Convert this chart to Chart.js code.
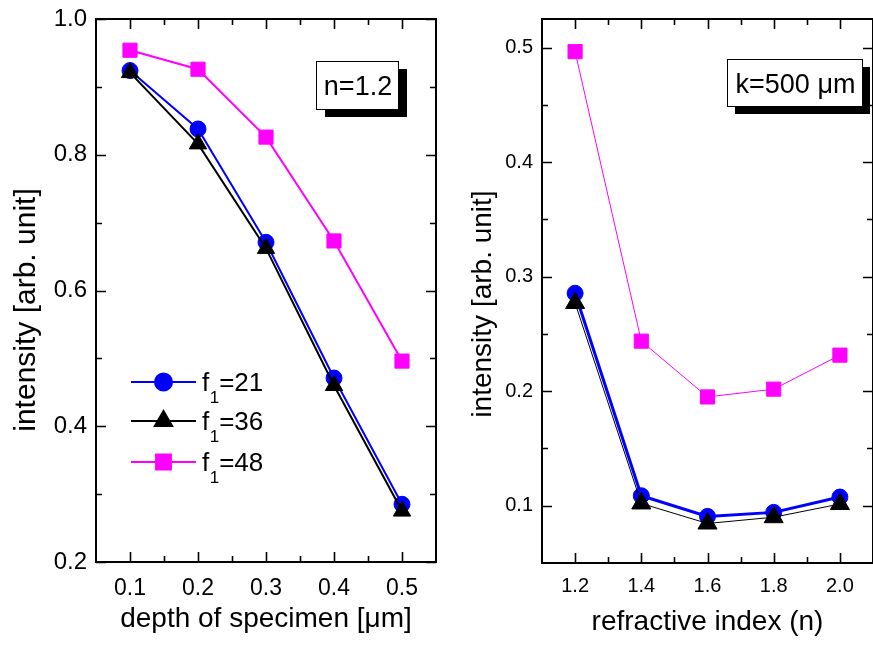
<!DOCTYPE html>
<html><head><meta charset="utf-8">
<script src="https://cdn.jsdelivr.net/npm/chart.js@4.4.0/dist/chart.umd.min.js"></script>
<style>
html,body{margin:0;padding:0;background:#fff;overflow:hidden;}
#w1{position:absolute;left:0;top:0;width:460px;height:646px;}
#w2{position:absolute;left:455px;top:0;width:418px;height:646px;overflow:hidden;}
#c1{display:block;width:460px;height:646px;}
#c2{display:block;width:430px;height:646px;}
</style></head><body>
<div id="w1"><canvas id="c1" width="460" height="646"></canvas></div>
<div id="w2"><canvas id="c2" width="430" height="646"></canvas></div>
<script>
// ---- data ----
const seriesNames = ['21', '36', '48'];
const seriesColors = ['#0000ff', '#000000', '#ff00ff'];
const seriesMarkers = ['circle', 'triangle', 'rect'];

const depthValues = [0.1, 0.2, 0.3, 0.4, 0.5];
const depthF21 = [0.924, 0.838, 0.671, 0.471, 0.285];
const depthF36 = [0.921, 0.816, 0.662, 0.460, 0.275];
const depthF48 = [0.954, 0.926, 0.826, 0.673, 0.496];

const indexValues = [1.2, 1.4, 1.6, 1.8, 2.0];
const indexF21 = [0.2855, 0.1087, 0.0907, 0.0942, 0.1076];
const indexF36 = [0.277, 0.102, 0.0845, 0.0900, 0.1015];
const indexF48 = [0.4965, 0.2437, 0.1950, 0.2018, 0.2315];

const depthTicks = [0.1, 0.2, 0.3, 0.4, 0.5];
const depthMinorTicks = [0.15, 0.25, 0.35, 0.45];
const leftIntensityTicks = [0.2, 0.4, 0.6, 0.8, 1.0];
const leftIntensityMinor = [0.3, 0.5, 0.7, 0.9];
const indexTicks = [1.2, 1.4, 1.6, 1.8, 2.0];
const indexMinorTicks = [1.3, 1.5, 1.7, 1.9];
const rightIntensityTicks = [0.1, 0.2, 0.3, 0.4, 0.5];
const rightIntensityMinor = [0.15, 0.25, 0.35, 0.45];

const FONT = '"Liberation Sans", Arial, Helvetica, sans-serif';
Chart.defaults.font.family = FONT;
Chart.defaults.color = '#000';

const pts = (xs, ys) => xs.map((x, i) => ({x: x, y: ys[i]}));

// ---- decoration plugin: frame, inward ticks, y title, legend, label box ----
const decor = {
  id: 'decor',
  afterDraw(chart, args, o) {
    const {ctx, chartArea: a, scales: {x, y}} = chart;
    ctx.save();
    ctx.strokeStyle = '#000';
    ctx.lineWidth = 1.6;
    ctx.beginPath();
    const xt = (vals, len) => vals.forEach(v => {
      const p = Math.round(x.getPixelForValue(v)) + 0.5;
      ctx.moveTo(p, a.bottom); ctx.lineTo(p, a.bottom - len);
      ctx.moveTo(p, a.top); ctx.lineTo(p, a.top + len);
    });
    const yt = (vals, len) => vals.forEach(v => {
      const p = Math.round(y.getPixelForValue(v)) + 0.5;
      ctx.moveTo(a.left, p); ctx.lineTo(a.left + len, p);
      ctx.moveTo(a.right, p); ctx.lineTo(a.right - len, p);
    });
    xt(o.xMajor, 10); xt(o.xMinor, 6);
    yt(o.yMajor, 10); yt(o.yMinor, 6);
    ctx.stroke();
    ctx.lineWidth = 2;
    ctx.strokeRect(a.left, a.top, a.right - a.left, a.bottom - a.top);

    // y title
    ctx.save();
    ctx.translate(o.yTitle.x, o.yTitle.y);
    ctx.rotate(-Math.PI / 2);
    ctx.font = o.yTitle.size + 'px ' + FONT;
    ctx.fillStyle = '#000';
    ctx.textAlign = 'center';
    ctx.textBaseline = 'alphabetic';
    ctx.fillText(o.yTitle.text, 0, 0);
    ctx.restore();

    // label box with shadow
    const b = o.box;
    ctx.fillStyle = '#000';
    ctx.fillRect(b.x + b.sx, b.y + b.sy, b.w, b.h);
    ctx.fillStyle = '#fff';
    ctx.fillRect(b.x, b.y, b.w, b.h);
    ctx.lineWidth = 1;
    ctx.strokeStyle = '#000';
    ctx.strokeRect(b.x + 0.5, b.y + 0.5, b.w, b.h);
    ctx.fillStyle = '#000';
    ctx.font = b.size + 'px ' + FONT;
    ctx.textAlign = 'center';
    ctx.textBaseline = 'alphabetic';
    ctx.fillText(b.text, b.x + b.w / 2 + 1, b.y + b.base);

    // legend
    if (o.legend) {
      const L = o.legend;
      chart.data.datasets.forEach((ds, i) => {
        const ry = L.y0 + L.dy[i];
        ctx.strokeStyle = ds.borderColor;
        ctx.lineWidth = 2;
        ctx.beginPath();
        ctx.moveTo(L.x1, ry); ctx.lineTo(L.x2, ry);
        ctx.stroke();
        ctx.fillStyle = ds.backgroundColor;
        ctx.strokeStyle = ds.borderColor;
        Chart.helpers.drawPoint(ctx, {pointStyle: ds.pointStyle, radius: L.r[i], rotation: 0, borderWidth: 1}, (L.x1 + L.x2) / 2, ry);
        ctx.fillStyle = '#000';
        ctx.textAlign = 'left';
        ctx.textBaseline = 'alphabetic';
        ctx.font = L.size + 'px ' + FONT;
        let tx = L.tx;
        ctx.fillText('f', tx, ry + 9);
        tx += ctx.measureText('f').width + 0.5;
        ctx.font = L.sub + 'px ' + FONT;
        ctx.fillText('1', tx, ry + 21);
        tx += ctx.measureText('1').width;
        ctx.font = L.size + 'px ' + FONT;
        ctx.fillText('=' + seriesNames[i], tx, ry + 9);
      });
    }
    ctx.restore();
  }
};

function makeDataset(i, xs, ys, lw, r, ord) {
  return {
    label: 'f1=' + seriesNames[i],
    data: pts(xs, ys),
    borderColor: seriesColors[i],
    backgroundColor: seriesColors[i],
    borderWidth: lw,
    pointStyle: seriesMarkers[i],
    pointRadius: r,
    pointBorderWidth: 1,
    pointBorderColor: seriesColors[i],
    pointBackgroundColor: seriesColors[i],
    tension: 0,
    fill: false,
    order: ord
  };
}

function axis(min, max, ticks, fontSize, pad, fitKey, fitVal, title, titleSize, titlePad) {
  const ax = {
    type: 'linear', min: min, max: max,
    grid: {display: false, drawTicks: false},
    border: {display: false},
    afterBuildTicks: s => { s.ticks = ticks.map(v => ({value: v})); },
    afterFit: s => {
      s[fitKey] = fitVal;
      s.paddingLeft = 0; s.paddingRight = 0; s.paddingTop = 0; s.paddingBottom = 0;
    },
    ticks: {padding: pad, font: {size: fontSize}, color: '#000', autoSkip: false, maxRotation: 0,
            callback: v => Number(v).toFixed(1)}
  };
  if (title) ax.title = {display: true, text: title, color: '#000', font: {size: titleSize}, padding: {top: 0, bottom: titlePad}};
  return ax;
}

// ---- left chart ----
new Chart(document.getElementById('c1'), {
  type: 'line',
  data: {datasets: [
    makeDataset(0, depthValues, depthF21, 2, 8, 1),
    makeDataset(1, depthValues, depthF36, 2, 10, 0),
    makeDataset(2, depthValues, depthF48, 2, 10, 2)
  ]},
  options: {
    responsive: false, maintainAspectRatio: false, animation: false, events: [],
    layout: {padding: {top: 19, right: 24, left: 0, bottom: 0}},
    plugins: {
      legend: {display: false}, tooltip: {enabled: false},
      decor: {
        xMajor: depthTicks, xMinor: depthMinorTicks,
        yMajor: leftIntensityTicks, yMinor: leftIntensityMinor,
        yTitle: {text: 'intensity [arb. unit]', x: 35, y: 310, size: 30},
        box: {x: 316, y: 61, w: 82, h: 48, sx: 9, sy: 8, text: 'n=1.2', size: 27, base: 34},
        legend: {x1: 131, x2: 196, tx: 202, y0: 382, dy: [0, 39, 80], r: [8.5, 10, 10.5], size: 26, sub: 17}
      }
    },
    scales: {
      x: axis(0.05, 0.55, depthTicks, 23, 13, 'height', 84, 'depth of specimen [\u03bcm]', 28, 10),
      y: axis(0.2, 1.0, leftIntensityTicks, 24, 9, 'width', 96)
    }
  },
  plugins: [decor]
});

// ---- right chart (its frame runs just past the page's right edge) ----
new Chart(document.getElementById('c2'), {
  type: 'line',
  data: {datasets: [
    makeDataset(0, indexValues, indexF21, 3, 8, 1),
    makeDataset(1, indexValues, indexF36, 1, 11, 0),
    makeDataset(2, indexValues, indexF48, 1, 10, 2)
  ]},
  options: {
    responsive: false, maintainAspectRatio: false, animation: false, events: [],
    layout: {padding: {top: 19, right: 4, left: 0, bottom: 0}},
    plugins: {
      legend: {display: false}, tooltip: {enabled: false},
      decor: {
        xMajor: indexTicks, xMinor: indexMinorTicks,
        yMajor: rightIntensityTicks, yMinor: rightIntensityMinor,
        yTitle: {text: 'intensity [arb. unit]', x: 36, y: 304, size: 28},
        box: {x: 272, y: 59, w: 135, h: 47, sx: 8, sy: 8, text: 'k=500 \u03bcm', size: 27, base: 34}
      }
    },
    scales: {
      x: axis(1.1, 2.1, indexTicks, 20, 11, 'height', 83, 'refractive index (n)', 28, 7),
      y: axis(0.05, 0.525, rightIntensityTicks, 20, 9, 'width', 87)
    }
  },
  plugins: [decor]
});
</script>
</body></html>
